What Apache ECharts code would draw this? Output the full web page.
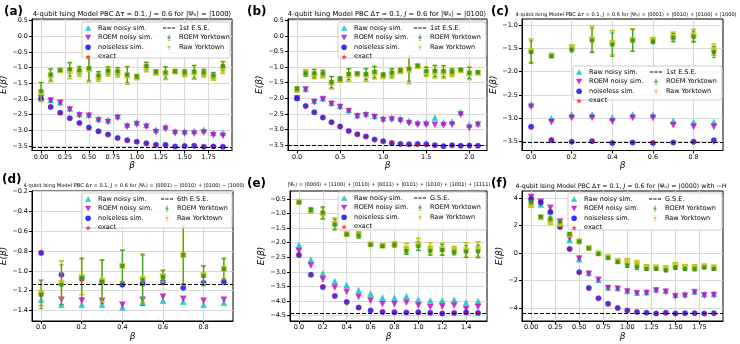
<!DOCTYPE html>
<html>
<head>
<meta charset="utf-8">
<script src="https://cdn.jsdelivr.net/npm/echarts@6/dist/echarts.min.js"></script>
<style>
html, body { margin: 0; padding: 0; background: #fff; }
#chart { width: 740px; height: 344px; }
</style>
</head>
<body>
<div id="chart"></div>
<script>
// ---- (a) |1000>
const betaA = [0.0,0.1,0.2,0.3,0.4,0.5,0.6,0.7,0.8,0.9,1.0,1.1,1.2,1.3,1.4,1.5,1.6,1.7,1.8,1.9];
const rawA = [-1.93,-2.03,-2.10,-2.30,-2.48,-2.50,-2.63,-2.68,-2.55,-2.82,-2.75,-2.83,-2.98,-2.88,-3.02,-3.03,-3.02,-2.98,-3.08,-3.08];
const roemA = [-1.95,-2.05,-2.12,-2.33,-2.52,-2.53,-2.68,-2.73,-2.60,-2.88,-2.80,-2.88,-3.05,-2.95,-3.08,-3.10,-3.10,-3.07,-3.15,-3.17];
const cleanA = [-2.00,-2.25,-2.44,-2.61,-2.76,-2.91,-3.03,-3.13,-3.24,-3.31,-3.36,-3.41,-3.46,-3.46,-3.51,-3.50,-3.49,-3.52,-3.51,-3.52];
const exactA = [-2.01,-2.25,-2.44,-2.61,-2.77,-2.92,-3.04,-3.14,-3.24,-3.32,-3.37,-3.42,-3.47,-3.48,-3.50,-3.51,-3.51,-3.52,-3.52,-3.52];
const ykRawA = [-1.78,-1.25,-1.08,-1.10,-1.12,-1.05,-1.28,-1.12,-1.15,-1.25,-1.30,-0.98,-1.15,-1.18,-1.12,-1.18,-1.15,-1.18,-1.28,-1.00];
const ykRawErrA = [0.30,0.20,0.05,0.25,0.15,0.40,0.15,0.15,0.15,0.28,0.08,0.15,0.08,0.20,0.05,0.10,0.22,0.12,0.12,0.18];
const ykRoemA = [-1.75,-1.22,-1.08,-1.05,-1.08,-1.02,-1.25,-1.10,-1.12,-1.22,-1.28,-0.95,-1.13,-1.15,-1.12,-1.15,-1.13,-1.15,-1.25,-0.95];
const ykRoemErrA = [0.28,0.18,0.05,0.22,0.12,0.38,0.12,0.12,0.12,0.25,0.06,0.12,0.06,0.18,0.04,0.08,0.20,0.10,0.10,0.15];
const eseA = -3.53;

// ---- (b) |0100>
const betaB = [0.0,0.1,0.2,0.3,0.4,0.5,0.6,0.7,0.8,0.9,1.0,1.1,1.2,1.3,1.4,1.5,1.6,1.7,1.8,1.9,2.0,2.1];
const rawB = [-1.98,-1.70,-2.08,-2.00,-2.15,-2.25,-2.38,-2.55,-2.50,-2.57,-2.65,-2.62,-2.65,-2.72,-2.78,-2.78,-2.63,-2.78,-2.75,-2.45,-2.85,-2.80];
const roemB = [-2.00,-1.72,-2.12,-2.03,-2.18,-2.28,-2.42,-2.58,-2.55,-2.60,-2.70,-2.68,-2.72,-2.80,-2.85,-2.85,-2.85,-2.87,-2.85,-2.52,-2.95,-2.85];
const cleanB = [-2.00,-2.25,-2.45,-2.62,-2.77,-2.91,-3.05,-3.16,-3.23,-3.33,-3.38,-3.44,-3.47,-3.48,-3.47,-3.48,-3.51,-3.54,-3.51,-3.53,-3.52,-3.53];
const exactB = [-2.00,-2.26,-2.45,-2.62,-2.77,-2.92,-3.05,-3.16,-3.24,-3.33,-3.39,-3.42,-3.46,-3.48,-3.49,-3.50,-3.51,-3.52,-3.52,-3.52,-3.52,-3.52];
const ykRawB = [-1.72,-1.18,-1.22,-1.22,-1.50,-1.40,-1.25,-1.22,-1.25,-1.18,-1.28,-1.20,-1.12,-1.08,-0.97,-1.15,-1.15,-1.15,-1.18,-1.10,-1.20,-1.18];
const ykRawErrB = [0.08,0.10,0.15,0.12,0.20,0.08,0.20,0.05,0.20,0.20,0.08,0.15,0.08,0.45,0.05,0.15,0.20,0.20,0.12,0.05,0.20,0.05];
const ykRoemB = [-1.70,-1.20,-1.20,-1.20,-1.48,-1.38,-1.22,-1.20,-1.22,-1.15,-1.25,-1.18,-1.10,-1.05,-0.95,-1.13,-1.12,-1.13,-1.15,-1.08,-1.18,-1.16];
const ykRoemErrB = [0.07,0.09,0.13,0.10,0.18,0.07,0.18,0.04,0.18,0.18,0.07,0.13,0.07,0.40,0.04,0.13,0.18,0.18,0.10,0.04,0.18,0.04];
const eseB = -3.52;

// ---- (c) |0001>+|0010>+|0100>+|1000>
const betaC = [0.0,0.1,0.2,0.3,0.4,0.5,0.6,0.7,0.8,0.9];
const rawC = [-2.70,-3.00,-2.92,-2.92,-2.98,-2.92,-2.92,-3.05,-3.08,-3.08];
const roemC = [-2.75,-3.08,-2.99,-2.99,-3.07,-2.99,-2.99,-3.15,-3.18,-3.18];
const cleanC = [-3.18,-3.47,-3.50,-3.49,-3.53,-3.52,-3.53,-3.52,-3.50,-3.47];
const exactC = [-3.20,-3.43,-3.49,-3.51,-3.52,-3.52,-3.52,-3.52,-3.52,-3.52];
const ykRawC = [-1.55,-1.65,-1.48,-1.30,-1.38,-1.32,-1.32,-1.25,-1.22,-1.53];
const ykRawErrC = [0.25,0.03,0.05,0.27,0.26,0.24,0.05,0.10,0.13,0.12];
const ykRoemC = [-1.58,-1.67,-1.53,-1.33,-1.42,-1.33,-1.35,-1.27,-1.25,-1.58];
const ykRoemErrC = [0.24,0.03,0.05,0.26,0.25,0.23,0.05,0.09,0.12,0.12];
const eseC = -3.52;

// ---- (d) |0001>-|0010>+|0100>-|1000>
const betaD = [0.0,0.1,0.2,0.3,0.4,0.5,0.6,0.7,0.8,0.9];
const rawD = [-1.29,-1.34,-1.34,-1.34,-1.37,-1.32,-1.30,-1.31,-1.34,-1.32];
const roemD = [-1.25,-1.29,-1.30,-1.30,-1.34,-1.29,-1.26,-1.28,-1.30,-1.29];
const cleanD = [-0.82,-1.04,-1.08,-1.11,-1.14,-1.13,-1.11,-1.17,-1.12,-1.11];
const exactD = [-0.80,-1.03,-1.10,-1.13,-1.13,-1.13,-1.13,-1.13,-1.13,-1.13];
const ykRawD = [-1.22,-1.12,-1.06,-1.10,-0.95,-1.08,-1.05,-0.84,-1.04,-0.98];
const ykRawErrD = [0.13,0.22,0.18,0.21,0.16,0.24,0.06,0.30,0.09,0.10];
const ykRoemD = [-1.24,-1.14,-1.07,-1.11,-0.95,-1.09,-1.06,-0.84,-1.05,-0.98];
const ykRoemErrD = [0.14,0.20,0.20,0.22,0.16,0.26,0.06,0.29,0.10,0.11];
const eseD = -1.13;

// ---- (e) 8-term superposition
const betaE = [0.0,0.1,0.2,0.3,0.4,0.5,0.6,0.7,0.8,0.9,1.0,1.1,1.2,1.3,1.4,1.5];
const rawE = [-2.08,-2.58,-3.05,-3.32,-3.45,-3.63,-3.75,-3.88,-3.88,-3.83,-3.95,-3.98,-3.98,-3.95,-4.05,-4.00];
const roemE = [-2.28,-2.78,-3.25,-3.53,-3.68,-3.85,-3.98,-4.10,-4.10,-4.05,-4.15,-4.20,-4.18,-4.15,-4.27,-4.20];
const cleanE = [-2.42,-3.10,-3.52,-3.82,-4.03,-4.22,-4.32,-4.37,-4.38,-4.39,-4.38,-4.40,-4.42,-4.41,-4.39,-4.41];
const exactE = [-2.40,-3.08,-3.50,-3.82,-4.07,-4.22,-4.31,-4.35,-4.38,-4.39,-4.40,-4.40,-4.40,-4.40,-4.40,-4.40];
const ykRawE = [-0.60,-0.90,-1.00,-1.35,-1.70,-1.72,-2.05,-2.10,-2.05,-2.20,-2.05,-2.20,-2.22,-2.25,-2.25,-2.22];
const ykRawErrE = [0.04,0.08,0.20,0.20,0.04,0.10,0.03,0.04,0.08,0.18,0.20,0.20,0.20,0.12,0.25,0.25];
const ykRoemE = [-0.62,-0.88,-0.97,-1.38,-1.72,-1.75,-2.07,-2.12,-2.07,-2.28,-2.12,-2.28,-2.25,-2.32,-2.30,-2.30];
const ykRoemErrE = [0.04,0.08,0.20,0.18,0.04,0.10,0.03,0.04,0.08,0.12,0.15,0.15,0.18,0.10,0.20,0.22];
const eseE = -4.40;

// ---- (f) |0000> with -H
const betaF = [0.0,0.1,0.2,0.3,0.4,0.5,0.6,0.7,0.8,0.9,1.0,1.1,1.2,1.3,1.4,1.5,1.6,1.7,1.8,1.9];
const rawF = [3.95,3.55,3.05,2.15,0.95,-0.45,-1.45,-1.95,-2.50,-2.55,-2.75,-2.88,-2.85,-2.65,-2.75,-3.05,-3.00,-2.80,-3.00,-2.98];
const roemF = [4.10,3.75,3.30,2.30,1.10,-0.40,-1.50,-1.95,-2.55,-2.60,-2.80,-2.92,-2.90,-2.72,-2.82,-3.15,-3.10,-2.85,-3.08,-3.05];
const cleanF = [3.95,3.70,3.00,1.90,0.30,-1.40,-2.55,-3.30,-3.70,-4.00,-4.18,-4.30,-4.35,-4.40,-4.35,-4.40,-4.38,-4.38,-4.40,-4.38];
const exactF = [4.00,3.65,3.00,1.90,0.30,-1.40,-2.55,-3.30,-3.72,-4.02,-4.20,-4.30,-4.35,-4.38,-4.38,-4.39,-4.40,-4.40,-4.40,-4.40];
const ykRawF = [3.50,2.62,2.30,2.15,1.35,0.85,0.38,-0.02,-0.30,-0.58,-0.60,-0.80,-1.00,-1.05,-1.10,-0.90,-1.00,-1.05,-0.95,-1.05];
const ykRawErrF = [0.15,0.10,0.20,0.15,0.10,0.10,0.10,0.10,0.10,0.15,0.20,0.25,0.15,0.15,0.15,0.20,0.15,0.20,0.12,0.15];
const ykRoemF = [3.70,2.65,2.50,2.30,1.40,0.85,0.35,-0.05,-0.35,-0.65,-0.90,-1.00,-1.15,-1.15,-1.25,-1.05,-1.15,-1.15,-1.05,-1.15];
const ykRoemErrF = [0.15,0.10,0.20,0.15,0.10,0.10,0.10,0.10,0.10,0.12,0.15,0.20,0.12,0.12,0.12,0.15,0.12,0.15,0.10,0.12];
const eseF = -4.40;

// tick labels
const xTicksA = [0, 0.25, 0.5, 0.75, 1.0, 1.25, 1.5, 1.75];
const yTicksA = [0.5, 0, -0.5, -1.0, -1.5, -2.0, -2.5, -3.0, -3.5];
const xTicksB = [0, 0.5, 1.0, 1.5, 2.0];
const yTicksB = [0.5, 0, -0.5, -1.0, -1.5, -2.0, -2.5, -3.0, -3.5];
const xTicksC = [0, 0.2, 0.4, 0.6, 0.8];
const yTicksC = [-1.0, -1.5, -2.0, -2.5, -3.0, -3.5];
const xTicksD = [0, 0.2, 0.4, 0.6, 0.8];
const yTicksD = [-0.2, -0.4, -0.6, -0.8, -1.0, -1.2, -1.4];
const xTicksE = [0, 0.2, 0.4, 0.6, 0.8, 1.0, 1.2, 1.4];
const yTicksE = [-0.5, -1.0, -1.5, -2.0, -2.5, -3.0, -3.5, -4.0, -4.5];
const xTicksF = [0, 0.25, 0.5, 0.75, 1.0, 1.25, 1.5, 1.75];
const yTicksF = [4, 2, 0, -2, -4];

const prefix = '4-qubit Ising Model PBC Δ{i|τ} = 0.1, {i|J} = 0.6 for |Ψ₀⟩ = ';

const panels = [
  { label: '(a)', title: prefix + '|1000⟩', titleSize: 6.8, titleX: 132, titleY: 14,
    beta: betaA, raw: rawA, roem: roemA, clean: cleanA, exact: exactA,
    ykRaw: ykRawA, ykRawErr: ykRawErrA, ykRoem: ykRoemA, ykRoemErr: ykRoemErrA,
    ese: eseA, eseName: '1st E.S.E.', xTicks: xTicksA, yTicks: yTicksA, xDec: 2, yDec: 1,
    xLim: [-0.095, 1.995], yLim: [-3.64, 0.55],
    grid: { left: 32, top: 19, width: 200, height: 131.5 }, yGap: 14, xGap: 6,
    labelPos: [4, 12], box: [82, 22, 148, 36], col1: 85, col2: 163 },
  { label: '(b)', title: prefix + '|0100⟩', titleSize: 6.8, titleX: 387, titleY: 14,
    beta: betaB, raw: rawB, roem: roemB, clean: cleanB, exact: exactB,
    ykRaw: ykRawB, ykRawErr: ykRawErrB, ykRoem: ykRoemB, ykRoemErr: ykRoemErrB,
    ese: eseB, eseName: '1st E.S.E.', xTicks: xTicksB, yTicks: yTicksB, xDec: 1, yDec: 1,
    xLim: [-0.105, 2.205], yLim: [-3.68, 0.55],
    grid: { left: 288, top: 19, width: 199, height: 131.5 }, yGap: 22, xGap: 6,
    labelPos: [247, 12], box: [338, 22, 148, 36], col1: 341, col2: 414 },
  { label: '(c)', title: prefix + '|0001⟩ + |0010⟩ + |0100⟩ + |1000⟩', titleSize: 5.1, titleX: 626, titleY: 15,
    beta: betaC, raw: rawC, roem: roemC, clean: cleanC, exact: exactC,
    ykRaw: ykRawC, ykRawErr: ykRawErrC, ykRoem: ykRoemC, ykRoemErr: ykRoemErrC,
    ese: eseC, eseName: '1st E.S.E.', xTicks: xTicksC, yTicks: yTicksC, xDec: 1, yDec: 1,
    xLim: [-0.045, 0.945], yLim: [-3.69, -0.87],
    grid: { left: 522, top: 19, width: 201, height: 131.5 }, yGap: 10, xGap: 6,
    labelPos: [491, 12], box: [573, 66, 149, 34], col1: 576, col2: 650 },
  { label: '(d)', title: prefix + '|0001⟩ − |0010⟩ + |0100⟩ − |1000⟩', titleSize: 5.1, titleX: 134, titleY: 186,
    beta: betaD, raw: rawD, roem: roemD, clean: cleanD, exact: exactD,
    ykRaw: ykRawD, ykRawErr: ykRawErrD, ykRoem: ykRoemD, ykRoemErr: ykRoemErrD,
    ese: eseD, eseName: '6th E.S.E.', xTicks: xTicksD, yTicks: yTicksD, xDec: 1, yDec: 1,
    xLim: [-0.045, 0.945], yLim: [-1.505, -0.195],
    grid: { left: 32, top: 191, width: 201, height: 130 }, yGap: 16, xGap: 9,
    labelPos: [2, 180], box: [82, 193, 150, 35], col1: 85, col2: 161 },
  { label: '(e)', title: '|Ψ₀⟩ = |0000⟩ + |1100⟩ + |0110⟩ + |0011⟩ + |0101⟩ + |1010⟩ + |1001⟩ + |1111⟩', titleSize: 5.1, titleX: 389, titleY: 185,
    beta: betaE, raw: rawE, roem: roemE, clean: cleanE, exact: exactE,
    ykRaw: ykRawE, ykRawErr: ykRawErrE, ykRoem: ykRoemE, ykRoemErr: ykRoemErrE,
    ese: eseE, eseName: 'G.S.E.', xTicks: xTicksE, yTicks: yTicksE, xDec: 1, yDec: 1,
    xLim: [-0.075, 1.575], yLim: [-4.68, -0.23],
    grid: { left: 290, top: 191, width: 197, height: 130 }, yGap: 22, xGap: 9,
    labelPos: [247, 184], box: [338, 192, 148, 38], col1: 341, col2: 414 },
  { label: '(f)', title: prefix + '|0000⟩ with −{i|H}', titleSize: 6.3, titleX: 621, titleY: 186,
    beta: betaF, raw: rawF, roem: roemF, clean: cleanF, exact: exactF,
    ykRaw: ykRawF, ykRawErr: ykRawErrF, ykRoem: ykRoemF, ykRoemErr: ykRoemErrF,
    ese: eseF, eseName: 'G.S.E.', xTicks: xTicksF, yTicks: yTicksF, xDec: 2, yDec: 0,
    xLim: [-0.095, 1.995], yLim: [-4.95, 4.53],
    grid: { left: 522, top: 191, width: 201, height: 130 }, yGap: 8, xGap: 9,
    labelPos: [491, 184], box: [568, 193, 154, 37], col1: 571, col2: 649 }
];

const FONT = 'DejaVu Sans';
const STAR = 'path://M50,0 L61,35 L98,35 L68,57 L79,91 L50,70 L21,91 L32,57 L2,35 L39,35 Z';
// legend glyphs (kept at their own aspect inside the legend slot)
const ICON_UP = 'path://M5,0 L10,9 L0,9 Z';
const ICON_DOWN = 'path://M0,0 L10,0 L5,9 Z';
const ICON_DOT = 'path://M5,0 A5,5 0 1 1 4.99,0 Z';
const ICON_DASH = 'path://M0,0 H5 V1.2 H0 Z M7,0 H12 V1.2 H7 Z M14,0 H19 V1.2 H14 Z';
const ICON_ERR = 'path://M3,0 H7 V0.8 H5.4 V3 H7.5 V7 H5.4 V9.2 H7 V10 H3 V9.2 H4.6 V7 H2.5 V3 H4.6 V0.8 H3 Z';

const fmt = dec => v => (v < 0 ? '\u2212' : '') + Math.abs(v).toFixed(dec);

// vertical error bar with caps, drawn through the axes
function errBar(color, width, cap) {
  return function (params, api) {
    const x = api.value(0);
    const lo = api.coord([x, api.value(1)]);
    const hi = api.coord([x, api.value(2)]);
    const style = { stroke: color, lineWidth: width };
    return {
      type: 'group',
      children: [
        { type: 'line', shape: { x1: lo[0], y1: lo[1], x2: hi[0], y2: hi[1] }, style },
        { type: 'line', shape: { x1: lo[0] - cap, y1: lo[1], x2: lo[0] + cap, y2: lo[1] }, style },
        { type: 'line', shape: { x1: hi[0] - cap, y1: hi[1], x2: hi[0] + cap, y2: hi[1] }, style }
      ]
    };
  };
}

const gridLine = { show: true, lineStyle: { color: '#d9d9d9', width: 1.2 } };
const black = { color: '#000', width: 1 };

const series = [];
const legends = [];
const graphics = [];

panels.forEach((p, i) => {
  const xy = arr => p.beta.map((b, k) => [b, arr[k]]);
  const err = (arr, e) => p.beta.map((b, k) => [b, arr[k] - e[k], arr[k] + e[k]]);
  const ax = { xAxisIndex: i, yAxisIndex: i };

  series.push(
    { ...ax, type: 'scatter', name: 'Raw noisy sim.', symbol: 'triangle', symbolSize: 6, z: 3,
      itemStyle: { color: '#00bfbf', borderColor: 'rgba(0,191,191,0.35)', borderWidth: 1 }, data: xy(p.raw) },
    { ...ax, type: 'scatter', name: 'ROEM noisy sim.', symbol: 'triangle', symbolRotate: 180, symbolSize: 6, z: 3,
      itemStyle: { color: '#bf00bf', borderColor: 'rgba(191,0,191,0.35)', borderWidth: 1 }, data: xy(p.roem) },
    { ...ax, type: 'scatter', name: 'noiseless sim.', symbol: 'circle', symbolSize: 5.5, z: 3,
      itemStyle: { color: '#0000ff', borderColor: 'rgba(80,80,255,0.45)', borderWidth: 1 }, data: xy(p.clean) },
    { ...ax, type: 'scatter', name: 'exact', symbol: STAR, symbolSize: 4.5, z: 3,
      itemStyle: { color: '#ff0000' }, data: xy(p.exact) },
    { ...ax, type: 'line', name: p.eseName, symbol: 'none', data: [], z: 3,
      itemStyle: { color: '#000' },
      lineStyle: { color: '#000', type: [4, 2], width: 1.1 },
      markLine: { silent: true, symbol: 'none', label: { show: false },
        lineStyle: { color: '#000', type: [4, 2], width: 1.1 },
        data: [{ yAxis: p.ese }] } },
    { ...ax, type: 'custom', name: 'Raw Yorktown err', renderItem: errBar('#c4c41a', 1.6, 2.6), z: 4,
      encode: { x: 0, y: [1, 2] }, data: err(p.ykRaw, p.ykRawErr) },
    { ...ax, type: 'custom', name: 'ROEM Yorktown err', renderItem: errBar('#2e9e2e', 1, 2), z: 4,
      encode: { x: 0, y: [1, 2] }, data: err(p.ykRoem, p.ykRoemErr) },
    { ...ax, type: 'scatter', name: 'Raw Yorktown', symbol: 'rect', symbolSize: 5.5, z: 5,
      itemStyle: { color: '#c4c41a', borderColor: 'rgba(196,196,26,0.4)', borderWidth: 1 }, data: xy(p.ykRaw) },
    { ...ax, type: 'scatter', name: 'ROEM Yorktown', symbol: 'rect', symbolSize: 4, z: 5,
      itemStyle: { color: '#1f8f1f' }, data: xy(p.ykRoem) }
  );

  const legBase = {
    orient: 'vertical', itemGap: 2.6, itemWidth: 12, itemHeight: 5.6, padding: 0, z: 10,
    top: p.box[1] + 2.5, selectedMode: false, symbolKeepAspect: true,
    itemStyle: { borderWidth: 0 },
    textStyle: { fontFamily: FONT, fontSize: 6.5, color: '#000', padding: [0, 0, 0, -1] }
  };
  legends.push(
    { ...legBase, left: p.col1, data: [
      { name: 'Raw noisy sim.', icon: ICON_UP },
      { name: 'ROEM noisy sim.', icon: ICON_DOWN },
      { name: 'noiseless sim.', icon: ICON_DOT },
      { name: 'exact', icon: STAR }
    ] },
    { ...legBase, left: p.col2, data: [
      { name: p.eseName, icon: ICON_DASH },
      { name: 'ROEM Yorktown', icon: ICON_ERR },
      { name: 'Raw Yorktown', icon: ICON_ERR }
    ] }
  );

  graphics.push(
    { type: 'rect', z: 8, shape: { x: p.box[0], y: p.box[1], width: p.box[2], height: p.box[3], r: 2 },
      style: { fill: 'rgba(255,255,255,0.8)', stroke: '#cccccc', lineWidth: 1 } },
    { type: 'text', z: 10, style: {
        text: p.title, x: p.titleX, y: p.titleY,
        align: 'center', verticalAlign: 'middle', textAlign: 'center', textVerticalAlign: 'middle',
        fontFamily: FONT, fontSize: p.titleSize, fill: '#000',
        rich: { i: { fontStyle: 'italic', fontFamily: FONT, fontSize: p.titleSize, fill: '#000' } } } },
    { type: 'text', z: 10, style: {
        text: p.label, x: p.labelPos[0], y: p.labelPos[1],
        verticalAlign: 'middle', textVerticalAlign: 'middle',
        fontFamily: FONT, fontSize: 12, fontWeight: 'bold', fill: '#000' } }
  );
});

const chart = echarts.init(document.getElementById('chart'), null, { renderer: 'canvas' });
chart.setOption({
  animation: false,
  backgroundColor: '#fff',
  textStyle: { fontFamily: FONT },
  grid: panels.map(p => ({ ...p.grid, show: true, borderColor: '#000', borderWidth: 1,
    backgroundColor: 'transparent', containLabel: false, outerBoundsMode: 'none' })),
  xAxis: panels.map((p, i) => ({
    type: 'value', gridIndex: i, min: p.xLim[0], max: p.xLim[1],
    name: 'β', nameLocation: 'middle', nameGap: p.xGap,
    nameTextStyle: { fontFamily: FONT, fontStyle: 'italic', fontSize: 9, color: '#000' },
    axisLine: { show: true, onZero: false, lineStyle: black },
    axisTick: { show: true, customValues: p.xTicks, length: 3, lineStyle: black },
    axisLabel: { customValues: p.xTicks, formatter: fmt(p.xDec), fontSize: 6.5, color: '#000', margin: 3, fontFamily: FONT },
    splitLine: gridLine
  })),
  yAxis: panels.map((p, i) => ({
    type: 'value', gridIndex: i, min: p.yLim[0], max: p.yLim[1],
    name: 'E(β)', nameLocation: 'middle', nameGap: p.yGap, nameRotate: 90,
    nameTextStyle: { fontFamily: FONT, fontStyle: 'italic', fontSize: 9, color: '#000' },
    axisLine: { show: true, onZero: false, lineStyle: black },
    axisTick: { show: true, customValues: p.yTicks, length: 3, lineStyle: black },
    axisLabel: { customValues: p.yTicks, formatter: fmt(p.yDec), fontSize: 6.5, color: '#000', margin: 4, fontFamily: FONT },
    splitLine: gridLine
  })),
  legend: legends,
  graphic: { elements: graphics },
  series: series
});
</script>
</body>
</html>
